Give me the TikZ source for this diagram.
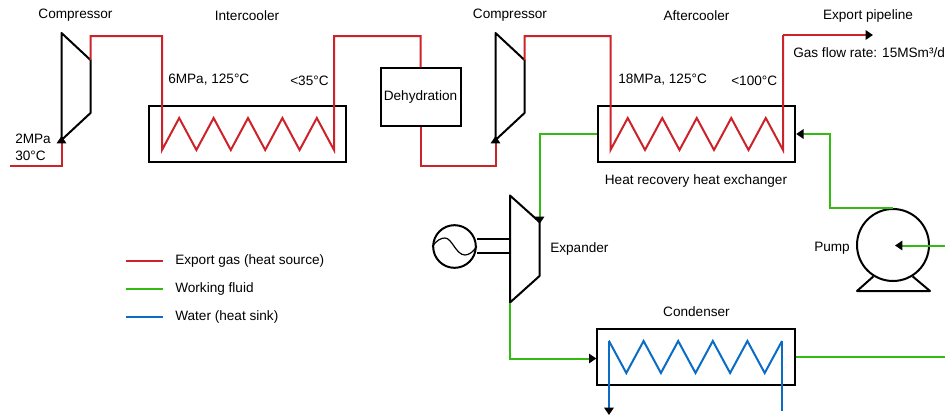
\documentclass[tikz,border=0pt]{standalone}
\usepackage{fontspec}
\setmainfont{Liberation Sans}
\usetikzlibrary{arrows.meta}
\definecolor{gasred}{HTML}{CC2229}
\definecolor{fluidgreen}{HTML}{33BB11}
\definecolor{waterblue}{HTML}{0A6CC4}
\tikzset{
    machine/.style = {line width = 1.5pt, line join = round},
    hxbox/.style = {draw, line width = 1.5pt, minimum width = 148pt, minimum height = 42.5pt},
    gasline/.style = {draw = gasred, line width = 1.5pt},
    fluidline/.style = {draw = fluidgreen, line width = 1.5pt},
    waterline/.style = {draw = waterblue, line width = 1.5pt},
    flowtip/.style = {-{Triangle[color = black, length = 5.5pt, width = 7pt]}},
    lbl/.style = {inner sep = 0pt, anchor = west},
    ctr/.style = {inner sep = 0pt}
}

\begin{document}
\begin{tikzpicture}[x = 0.75pt, y = -0.75pt, font = \fontsize{10.2}{12}\selectfont]
            \useasboundingbox (0,0) rectangle (945,415);

            \coordinate (ca1) at (61.5,33);
            \coordinate (ca2) at (90.5,60);
            \coordinate (ca3) at (90.5,113);
            \coordinate (ca4) at (61.5,140);
            \coordinate (cb1) at (495.5,33);
            \coordinate (cb2) at (524.5,60);
            \coordinate (cb3) at (524.5,113);
            \coordinate (cb4) at (495.5,140);
            \coordinate (ex1) at (510,195.5);
            \coordinate (ex2) at (539.5,222);
            \coordinate (ex3) at (539.5,276);
            \coordinate (ex4) at (510,302.5);

            \coordinate (gasin) at (10,166);
            \coordinate (gasa) at (61.5,136);
            \coordinate (gasb) at (90.5,36);
            \coordinate (gasc) at (162,36);
            \coordinate (gasd) at (162,150);
            \coordinate (gasf) at (334,36);
            \coordinate (gasg) at (420.5,36);
            \coordinate (gash) at (420.5,166);
            \coordinate (gasi) at (495.5,136);
            \coordinate (gasj) at (524.5,36);
            \coordinate (gask) at (610.5,36);
            \coordinate (gasl) at (610.5,150);
            \coordinate (gasn) at (783,35);
            \coordinate (gasout) at (873,35);

            \coordinate (wfa) at (539.5,224);
            \coordinate (wfb) at (510,358.5);
            \coordinate (wfc) at (945,357);
            \coordinate (wfd) at (945,245.5);
            \coordinate (wfe) at (895,245.5);
            \coordinate (wff) at (829.5,134);

            \coordinate (wta) at (609,341);
            \coordinate (wtb) at (609,415);
            \coordinate (wtc) at (782,341);
            \coordinate (wtd) at (782,411);

            \coordinate (lga) at (126,261);
            \coordinate (lgb) at (163,261);
            \coordinate (lgc) at (126,289);
            \coordinate (lgd) at (163,289);
            \coordinate (lge) at (126,317);
            \coordinate (lgf) at (163,317);

            \node[hxbox] (hxa) at (247.5,134) {};
            \node[hxbox] (hxb) at (696.5,134) {};
            \node[hxbox] (cond) at (696,357) {};
            \node[draw, line width = 1.5pt, minimum width = 60pt, minimum height = 43pt, inner sep = 0pt] (dehy) at (420.5,97) {Dehydration};
            \node[draw, circle, line width = 1.5pt, minimum size = 54pt, inner sep = 0pt] (pump) at (893,245) {};
            \node[draw, circle, line width = 1.5pt, minimum size = 32pt, inner sep = 0pt] (gen) at (454.5,246.5) {};

            \draw[machine] (ca1) -- (ca2) -- (ca3) -- (ca4) -- cycle;
            \draw[machine] (cb1) -- (cb2) -- (cb3) -- (cb4) -- cycle;
            \draw[machine] (ex1) -- (ex2) -- (ex3) -- (ex4) -- cycle;

            \draw[line width = 0.9pt] (gen.west) .. controls (437,240) and (441,238) .. (445,238)
            .. controls (452,238) and (456,255) .. (465,255)
            .. controls (469,255) and (473,252) .. (gen.east);
            \draw[machine] (gen.east |- 0,239) -- (ex1 |- 0,239);
            \draw[machine] (gen.east |- 0,253) -- (ex1 |- 0,253);

            \draw[machine] (pump.-122) -- (857,291) -- (930,291) -- (pump.-58);

            \draw[gasline, flowtip] (gasin) -| (gasa);
            \draw[gasline] (ca2) -- (gasb) -- (gasc) -- (gasd)
            \foreach \i in {1,...,5} { -- ++(17.2,-32) -- ++(17.2,32) } -- (gasf) -- (gasg) -- (dehy.north);
            \draw[gasline, flowtip] (dehy.south) -- (gash) -| (gasi);
            \draw[gasline] (cb2) -- (gasj) -- (gask) -- (gasl)
            \foreach \i in {1,...,5} { -- ++(17.25,-32) -- ++(17.25,32) } -- (gasn);
            \draw[gasline, flowtip] (gasn) -- (gasout);

            \draw[fluidline, flowtip] (hxb.west) -| (wfa);
            \draw[fluidline, flowtip] (ex4) |- (wfb) -- (wfb -| cond.west);
            \draw[fluidline] (cond.east) -- (wfc);
            \draw[fluidline, flowtip] (wfd) -- (wfe);
            \draw[fluidline, flowtip] (pump.north) -| (wff) -- (hxb.east);

            \draw[waterline] (wtc)
            \foreach \i in {1,...,5} { -- ++(-17.3,32) -- ++(-17.3,-32) } -- (wtb |- wta);
            \draw[waterline, flowtip] (wta) -- (wtb);
            \draw[waterline] (wtc) -- (wtd);

            \draw[gasline] (lga) -- (lgb);
            \draw[fluidline] (lgc) -- (lgd);
            \draw[waterline] (lge) -- (lgf);

            \node[ctr] (compa) at (75.5,15.5) {Compressor};
            \node[ctr] (intc) at (247,15.5) {Intercooler};
            \node[ctr] (compb) at (510,15.5) {Compressor};
            \node[ctr] (aftc) at (696.5,15.5) {Aftercooler};
            \node[ctr] (expt) at (868,15.5) {Export pipeline};
            \node[lbl] (rate) at (793,52.5) {Gas flow rate: 15MSm³/d};
            \node[lbl] (stata) at (15,138.5) {2MPa};
            \node[lbl] (statb) at (15,155.5) {30°C};
            \node[lbl] (statc) at (168,79.5) {6MPa, 125°C};
            \node[lbl] (statd) at (290,80.5) {<35°C};
            \node[lbl] (state) at (618,79.5) {18MPa, 125°C};
            \node[lbl] (statf) at (731,80.5) {<100°C};
            \node[ctr] (hrhx) at (696,180.5) {Heat recovery heat exchanger};
            \node[lbl] (expd) at (550,248.5) {Expander};
            \node[lbl] (pumpl) at (814,248.5) {Pump};
            \node[ctr] (condl) at (696.5,311.5) {Condenser};
            \node[lbl] (lgtxa) at (175,261) {Export gas (heat source)};
            \node[lbl] (lgtxb) at (175,289) {Working fluid};
            \node[lbl] (lgtxc) at (175,317) {Water (heat sink)};
        \end{tikzpicture}
\end{document}
